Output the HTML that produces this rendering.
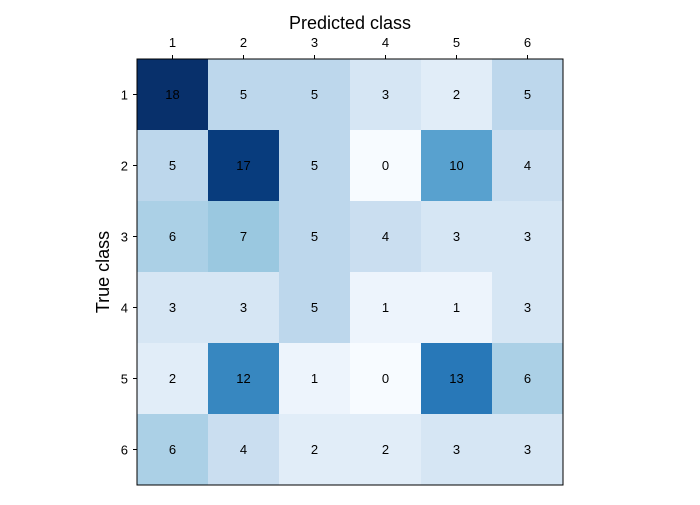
<!DOCTYPE html>
<html><head><style>body{margin:0;background:#fff;}</style></head><body>
<svg width="700" height="500" xmlns="http://www.w3.org/2000/svg" font-family="Liberation Sans, DejaVu Sans, sans-serif">
<rect width="700" height="500" fill="#fff"/>
<g>
<rect x="137" y="59" width="71" height="71" fill="#08306b"/><rect x="208" y="59" width="71" height="71" fill="#bdd7ec"/><rect x="279" y="59" width="71" height="71" fill="#bdd7ec"/><rect x="350" y="59" width="71" height="71" fill="#d6e6f4"/><rect x="421" y="59" width="71" height="71" fill="#e1edf8"/><rect x="492" y="59" width="71" height="71" fill="#bdd7ec"/>
<rect x="137" y="130" width="71" height="71" fill="#bdd7ec"/><rect x="208" y="130" width="71" height="71" fill="#083c7d"/><rect x="279" y="130" width="71" height="71" fill="#bdd7ec"/><rect x="350" y="130" width="71" height="71" fill="#f7fbff"/><rect x="421" y="130" width="71" height="71" fill="#58a1cf"/><rect x="492" y="130" width="71" height="71" fill="#cadef0"/>
<rect x="137" y="201" width="71" height="71" fill="#abd0e6"/><rect x="208" y="201" width="71" height="71" fill="#9ac8e0"/><rect x="279" y="201" width="71" height="71" fill="#bdd7ec"/><rect x="350" y="201" width="71" height="71" fill="#cadef0"/><rect x="421" y="201" width="71" height="71" fill="#d6e6f4"/><rect x="492" y="201" width="71" height="71" fill="#d6e6f4"/>
<rect x="137" y="272" width="71" height="71" fill="#d6e6f4"/><rect x="208" y="272" width="71" height="71" fill="#d6e6f4"/><rect x="279" y="272" width="71" height="71" fill="#bdd7ec"/><rect x="350" y="272" width="71" height="71" fill="#edf4fc"/><rect x="421" y="272" width="71" height="71" fill="#edf4fc"/><rect x="492" y="272" width="71" height="71" fill="#d6e6f4"/>
<rect x="137" y="343" width="71" height="71" fill="#e1edf8"/><rect x="208" y="343" width="71" height="71" fill="#3787c0"/><rect x="279" y="343" width="71" height="71" fill="#edf4fc"/><rect x="350" y="343" width="71" height="71" fill="#f7fbff"/><rect x="421" y="343" width="71" height="71" fill="#2878b8"/><rect x="492" y="343" width="71" height="71" fill="#abd0e6"/>
<rect x="137" y="414" width="71" height="71" fill="#abd0e6"/><rect x="208" y="414" width="71" height="71" fill="#cadef0"/><rect x="279" y="414" width="71" height="71" fill="#e1edf8"/><rect x="350" y="414" width="71" height="71" fill="#e1edf8"/><rect x="421" y="414" width="71" height="71" fill="#d6e6f4"/><rect x="492" y="414" width="71" height="71" fill="#d6e6f4"/>
</g>
<g font-size="13" text-anchor="middle" fill="#000">
<text x="172.5" y="99">18</text><text x="243.5" y="99">5</text><text x="314.5" y="99">5</text><text x="385.5" y="99">3</text><text x="456.5" y="99">2</text><text x="527.5" y="99">5</text>
<text x="172.5" y="170">5</text><text x="243.5" y="170">17</text><text x="314.5" y="170">5</text><text x="385.5" y="170">0</text><text x="456.5" y="170">10</text><text x="527.5" y="170">4</text>
<text x="172.5" y="241">6</text><text x="243.5" y="241">7</text><text x="314.5" y="241">5</text><text x="385.5" y="241">4</text><text x="456.5" y="241">3</text><text x="527.5" y="241">3</text>
<text x="172.5" y="312">3</text><text x="243.5" y="312">3</text><text x="314.5" y="312">5</text><text x="385.5" y="312">1</text><text x="456.5" y="312">1</text><text x="527.5" y="312">3</text>
<text x="172.5" y="383">2</text><text x="243.5" y="383">12</text><text x="314.5" y="383">1</text><text x="385.5" y="383">0</text><text x="456.5" y="383">13</text><text x="527.5" y="383">6</text>
<text x="172.5" y="454">6</text><text x="243.5" y="454">4</text><text x="314.5" y="454">2</text><text x="385.5" y="454">2</text><text x="456.5" y="454">3</text><text x="527.5" y="454">3</text>
</g>
<g stroke="#000" stroke-width="1">
<line x1="172.5" y1="59" x2="172.5" y2="55"/><line x1="243.5" y1="59" x2="243.5" y2="55"/><line x1="314.5" y1="59" x2="314.5" y2="55"/><line x1="385.5" y1="59" x2="385.5" y2="55"/><line x1="456.5" y1="59" x2="456.5" y2="55"/><line x1="527.5" y1="59" x2="527.5" y2="55"/>
<line x1="137" y1="94.5" x2="133" y2="94.5"/><line x1="137" y1="165.5" x2="133" y2="165.5"/><line x1="137" y1="236.5" x2="133" y2="236.5"/><line x1="137" y1="307.5" x2="133" y2="307.5"/><line x1="137" y1="378.5" x2="133" y2="378.5"/><line x1="137" y1="449.5" x2="133" y2="449.5"/>
</g>
<g font-size="13" text-anchor="middle">
<text x="172.5" y="47">1</text><text x="243.5" y="47">2</text><text x="314.5" y="47">3</text><text x="385.5" y="47">4</text><text x="456.5" y="47">5</text><text x="527.5" y="47">6</text>
</g>
<g font-size="13" text-anchor="end">
<text x="128" y="99.5">1</text><text x="128" y="170.5">2</text><text x="128" y="241.5">3</text><text x="128" y="312.5">4</text><text x="128" y="383.5">5</text><text x="128" y="454.5">6</text>
</g>
<rect x="137" y="59" width="426" height="426" fill="none" stroke="#000" stroke-width="1"/>
<text x="350" y="29" font-size="18" text-anchor="middle">Predicted class</text>
<text transform="translate(109,272) rotate(-90)" font-size="18" text-anchor="middle">True class</text>
</svg>
</body></html>
